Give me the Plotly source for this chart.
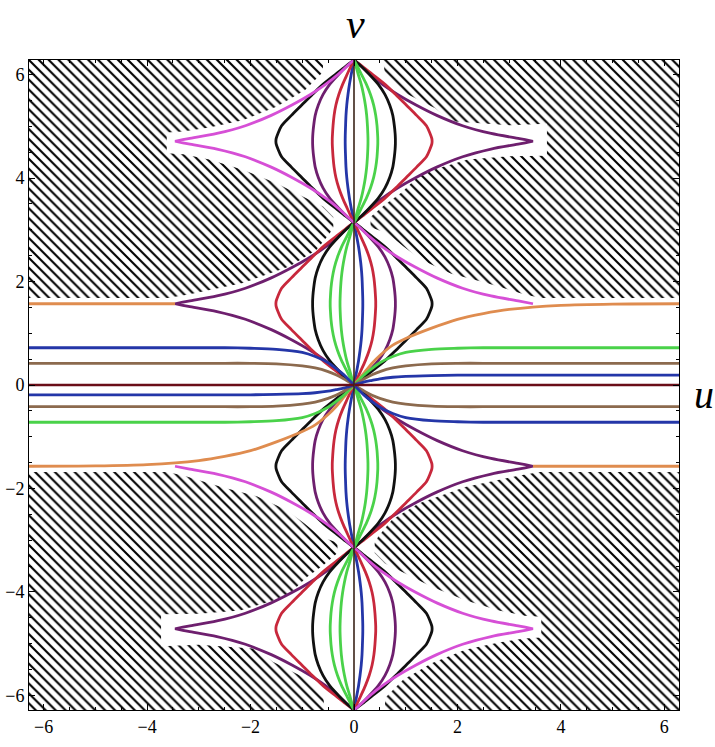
import numpy as np
import plotly.graph_objects as go

PI = np.pi

# colours of the curve families
clr = {'magenta': "#d64fd6", 'purple': "#6e1f6e", 'red': "#c8283c",
       'black': "#111111", 'green': "#4ad24a", 'blue': "#2436a8",
       'brown': "#8c6a4e", 'orange': "#df8c4f", 'darkred': "#6a0d18",
       'axis': "#3a2418"}

# --- wing curves between (0, k*pi) and (0, (k+1)*pi) ---
# distance from the middle of a lobe (v - (k+1/2)pi) and |u|
wing_d = [0.0, 0.05, 0.15, 0.30, 0.50, 0.70, 0.90, 1.10, 1.30, 1.45, 1.571]
wing_346 = [3.46, 3.20, 2.65, 2.10, 1.60, 1.20, 0.85, 0.55, 0.30, 0.14, 0.0]
wing_151 = [1.51, 1.505, 1.47, 1.40, 1.21, 1.01, 0.81, 0.60, 0.35, 0.16, 0.0]
wing_080 = [0.80, 0.80, 0.795, 0.78, 0.75, 0.69, 0.60, 0.47, 0.29, 0.14, 0.0]
wing_046 = [0.46, 0.46, 0.455, 0.445, 0.42, 0.38, 0.32, 0.24, 0.14, 0.065, 0.0]
wing_042 = [0.42, 0.42, 0.415, 0.405, 0.385, 0.35, 0.295, 0.22, 0.13, 0.06, 0.0]
wing_027 = [0.27, 0.27, 0.267, 0.26, 0.245, 0.22, 0.185, 0.14, 0.08, 0.038, 0.0]
wing_017 = [0.17, 0.17, 0.168, 0.163, 0.155, 0.14, 0.117, 0.088, 0.052, 0.024, 0.0]
wing_000 = [0.0] * 11

# --- curves leaving the origin to the right, with horizontal asymptotes ---
asym_u = [0, 0.1, 0.2, 0.35, 0.5, 0.75, 1.0, 1.5, 2.0, 2.5, 3.0, 4.0, 5.0, 6.3]
asym_157 = [0, 0.12, 0.24, 0.42, 0.57, 0.77, 0.90, 1.10, 1.27, 1.38, 1.46, 1.54, 1.565, 1.571]
asym_072 = [0, 0.10, 0.20, 0.32, 0.43, 0.55, 0.63, 0.69, 0.71, 0.72, 0.72, 0.72, 0.72, 0.72]
asym_042 = [0, 0.06, 0.12, 0.20, 0.26, 0.33, 0.37, 0.41, 0.42, 0.42, 0.42, 0.42, 0.42, 0.42]
asym_019 = [0, 0.03, 0.06, 0.09, 0.12, 0.15, 0.165, 0.18, 0.19, 0.19, 0.19, 0.19, 0.19, 0.19]
asym_000 = [0] * 14
flat_u = [3.46, 4.5, 5.5, 6.3]
flat_v = [-1.571, -1.571, -1.571, -1.571]

# --- hatched (excluded) regions, upper half; lower half is the point reflection ---
hatch_ul_u = [-6.3, -0.6, -0.6, -0.95, -1.5, -2.15, -2.8, -3.3, -3.62, -3.62, -3.3, -2.8,
              -2.15, -1.5, -1.0, -0.6, -0.4, -0.4, -0.47, -0.73, -1.25, -2.15, -3.2,
              -3.6, -6.3]
hatch_ul_v = [6.3, 6.3, 6.05, 5.7, 5.38, 5.12, 4.98, 4.9, 4.88, 4.48, 4.46, 4.36,
              4.16, 3.9, 3.65, 3.45, 3.25, 3.05, 2.93, 2.61, 2.29, 1.97, 1.75,
              1.68, 1.68]
hatch_ur_u = [0.56, 6.3, 6.3, 3.62, 3.3, 2.53, 1.88, 1.3, 0.97, 0.65, 0.32, 0.32, 0.6,
              0.92, 1.25, 1.57, 2.2, 3.0, 3.73, 3.73, 3.0, 1.88, 1.57, 0.92, 0.6]
hatch_ur_v = [6.3, 6.3, 1.68, 1.68, 1.75, 1.98, 2.15, 2.42, 2.67, 2.93, 3.05, 3.25, 3.49,
              3.72, 4.04, 4.17, 4.36, 4.42, 4.43, 5.05, 5.02, 5.1, 5.35, 5.68, 6.0]

ticks = [-6, -4, -2, 0, 2, 4, 6]
tick_text = [str(t).replace('-', '\u2212') for t in ticks]

fig = go.Figure()

pattern = dict(shape='\\', size=7, solidity=0.3, fgcolor='black', bgcolor='white', fgopacity=1)
for hu, hv in [(hatch_ul_u, hatch_ul_v), (hatch_ur_u, hatch_ur_v)]:
    for sg in (1, -1):
        fig.add_trace(go.Scatter(x=[sg * a for a in hu], y=[sg * b for b in hv],
                                 mode='none', fill='toself', fillcolor='white',
                                 fillpattern=pattern, hoverinfo='skip'))


def add_wing(k, side, prof, colour, part='both', width=2.8):
    mid = (k + 0.5) * PI
    xs, ys = [], []
    if part in ('both', 'low'):
        for d, u in zip(wing_d[::-1], prof[::-1]):
            xs.append(side * u)
            ys.append(mid - d)
    if part in ('both', 'high'):
        for d, u in zip(wing_d, prof):
            xs.append(side * u)
            ys.append(mid + d)
    fig.add_trace(go.Scatter(x=xs, y=ys, mode='lines',
                             line=dict(color=colour, width=width, shape='spline', smoothing=0.8),
                             hoverinfo='skip'))


# lobe layouts: A for k = 0, -2 ; B for k = 1, -1
layout_A = {-1: [(wing_346, 'purple'), (wing_151, 'red'), (wing_080, 'black'),
                 (wing_046, 'green'), (wing_027, 'green')],
            1: [(wing_017, 'blue'), (wing_042, 'red'), (wing_080, 'purple'),
                (wing_151, 'black'), (wing_346, 'magenta')]}
layout_B = {1: layout_A[-1], -1: layout_A[1]}

for k, lay in [(0, layout_A), (-2, layout_A), (1, layout_B), (-1, layout_B)]:
    for side, items in lay.items():
        for prof, c in items:
            part = 'both'
            if c == 'magenta' and k == 0:
                part = 'high'
            if c == 'magenta' and k == -1:
                part = 'low'
            add_wing(k, side, prof, clr[c], part)

right_set = [(asym_157, 1, 'orange'), (asym_072, 1, 'green'), (asym_042, 1, 'brown'),
             (asym_019, 1, 'blue'), (asym_042, -1, 'brown'), (asym_072, -1, 'blue')]
for sg in (1, -1):
    for prof, s, c in right_set:
        fig.add_trace(go.Scatter(x=[sg * u for u in asym_u], y=[sg * s * v for v in prof],
                                 mode='lines', hoverinfo='skip',
                                 line=dict(color=clr[c], width=2.8, shape='spline', smoothing=0.8)))
    fig.add_trace(go.Scatter(x=[sg * u for u in flat_u], y=[sg * v for v in flat_v],
                             mode='lines', hoverinfo='skip',
                             line=dict(color=clr['orange'], width=2.8)))
    fig.add_trace(go.Scatter(x=[sg * u for u in asym_u], y=asym_000, mode='lines',
                             hoverinfo='skip', line=dict(color=clr['darkred'], width=2.4)))

for k in (-2, -1, 0, 1):
    add_wing(k, 1, wing_000, clr['axis'], width=1.6)

axis_style = dict(range=[-2 * PI, 2 * PI], showgrid=False, zeroline=False, automargin=False,
                  showline=True, linecolor='black', linewidth=1, mirror='ticks',
                  ticks='inside', ticklen=6, tickcolor='black', tickwidth=1,
                  tickvals=ticks, ticktext=tick_text,
                  minor=dict(ticks='inside', ticklen=3, dtick=0.5, tickcolor='black'),
                  tickfont=dict(family='Liberation Serif', size=18, color='black'))
fig.update_xaxes(**axis_style)
fig.update_yaxes(**axis_style)

fig.update_layout(width=715, height=747, showlegend=False,
                  font=dict(family='Liberation Serif', color='black'),
                  margin=dict(l=29, r=36, t=60, b=37),
                  plot_bgcolor='white', paper_bgcolor='white',
                  annotations=[
                      dict(text='v', xref='paper', yref='paper', x=0.503, y=1.055,
                           showarrow=False, xanchor='center', yanchor='middle',
                           font=dict(family='Liberation Serif', size=42, style='italic', color='black')),
                      dict(text='u', xref='paper', yref='paper', x=1.038, y=0.485,
                           showarrow=False, xanchor='center', yanchor='middle',
                           font=dict(family='Liberation Serif', size=40, style='italic', color='black'))])

fig.write_html("out.html", config={'displayModeBar': False},
               post_script="document.body.style.margin='0';")
